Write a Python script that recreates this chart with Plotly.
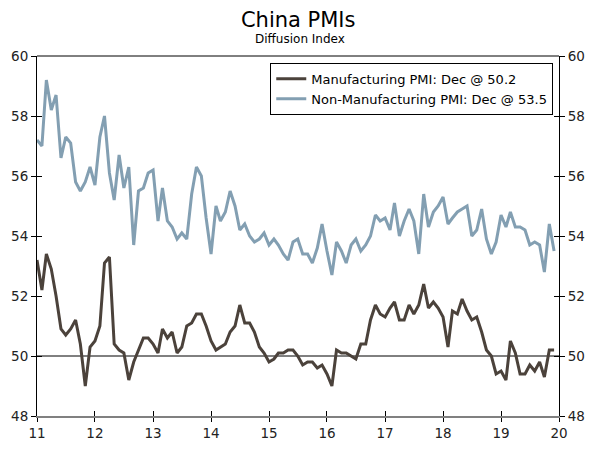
import pandas as pd
import plotly.graph_objects as go

# Monthly values, Jan 2011 - Dec 2019
manufacturing = [
    53.2, 52.2, 53.4, 52.9, 52.0, 50.9, 50.7, 50.9, 51.2, 50.4, 49.0, 50.3,  # 2011
    50.5, 51.0, 53.1, 53.3, 50.4, 50.2, 50.1, 49.2, 49.8, 50.2, 50.6, 50.6,  # 2012
    50.4, 50.1, 50.9, 50.6, 50.8, 50.1, 50.3, 51.0, 51.1, 51.4, 51.4, 51.0,  # 2013
    50.5, 50.2, 50.3, 50.4, 50.8, 51.0, 51.7, 51.1, 51.1, 50.8, 50.3, 50.1,  # 2014
    49.8, 49.9, 50.1, 50.1, 50.2, 50.2, 50.0, 49.7, 49.8, 49.8, 49.6, 49.7,  # 2015
    49.4, 49.0, 50.2, 50.1, 50.1, 50.0, 49.9, 50.4, 50.4, 51.2, 51.7, 51.4,  # 2016
    51.3, 51.6, 51.8, 51.2, 51.2, 51.7, 51.4, 51.7, 52.4, 51.6, 51.8, 51.6,  # 2017
    51.3, 50.3, 51.5, 51.4, 51.9, 51.5, 51.2, 51.3, 50.8, 50.2, 50.0, 49.4,  # 2018
    49.5, 49.2, 50.5, 50.1, 49.4, 49.4, 49.7, 49.5, 49.8, 49.3, 50.2, 50.2,  # 2019
]
non_manufacturing = [
    57.2, 57.0, 59.2, 58.2, 58.7, 56.6, 57.3, 57.1, 55.8, 55.5, 55.8, 56.3,  # 2011
    55.7, 57.3, 58.0, 56.1, 55.2, 56.7, 55.6, 56.3, 53.7, 55.5, 55.6, 56.1,  # 2012
    56.2, 54.5, 55.6, 54.5, 54.3, 53.9, 54.1, 53.9, 55.4, 56.3, 56.0, 54.6,  # 2013
    53.4, 55.0, 54.5, 54.8, 55.5, 55.0, 54.2, 54.4, 54.0, 53.8, 53.9, 54.1,  # 2014
    53.7, 53.9, 53.7, 53.4, 53.2, 53.8, 53.9, 53.4, 53.4, 53.1, 53.6, 54.4,  # 2015
    53.5, 52.7, 53.8, 53.5, 53.1, 53.7, 53.9, 53.5, 53.7, 54.0, 54.7, 54.5,  # 2016
    54.6, 54.2, 55.1, 54.0, 54.5, 54.9, 54.5, 53.4, 55.4, 54.3, 54.8, 55.0,  # 2017
    55.3, 54.4, 54.6, 54.8, 54.9, 55.0, 54.0, 54.2, 54.9, 53.9, 53.4, 53.8,  # 2018
    54.7, 54.3, 54.8, 54.3, 54.3, 54.2, 53.7, 53.8, 53.7, 52.8, 54.4, 53.5,  # 2019
]
dates = pd.date_range("2011-01-01", periods=len(manufacturing), freq="MS")
year_ticks = pd.date_range("2011-01-01", "2020-01-01", freq="YS")
year_labels = [d.strftime("%y") for d in year_ticks]
y_ticks = [48, 50, 52, 54, 56, 58, 60]
reference_level = 50

FONT = "DejaVu Sans"
MFG_COLOR = "#4b423b"
NMI_COLOR = "#839fb2"
x_range = [year_ticks[0], year_ticks[-1]]
y_range = [48, 60]

fig = go.Figure()
fig.add_trace(go.Scatter(x=dates, y=manufacturing, mode="lines",
                         name="Manufacturing PMI: Dec @ 50.2",
                         line=dict(color=MFG_COLOR, width=3)))
fig.add_trace(go.Scatter(x=dates, y=non_manufacturing, mode="lines",
                         name="Non-Manufacturing PMI: Dec @ 53.5",
                         line=dict(color=NMI_COLOR, width=3)))
# invisible helper traces so the overlay axes (inner tick halves, right axis) render
for xa, ya in [("x2", "y"), ("x", "y2"), ("x", "y3"), ("x", "y4")]:
    fig.add_trace(go.Scatter(x=[dates[0]], y=[reference_level], xaxis=xa, yaxis=ya,
                             mode="markers", marker=dict(opacity=0),
                             showlegend=False, hoverinfo="skip"))

fig.add_shape(type="line", xref="paper", x0=0, x1=1, yref="y",
              y0=reference_level, y1=reference_level,
              line=dict(color="black", width=1), layer="below")
fig.add_shape(type="line", xref="paper", x0=0, x1=1, yref="paper", y0=1, y1=1,
              line=dict(color="black", width=1))

tickfont = dict(family=FONT, size=13.5, color="#222222")
common_y = dict(range=y_range, tickvals=y_ticks, showgrid=False, zeroline=False,
                tickcolor="black", tickwidth=1, ticklen=5, automargin=False)
fig.update_layout(
    width=600, height=450,
    margin=dict(l=37, r=41, t=56, b=34),
    paper_bgcolor="white", plot_bgcolor="white",
    font=dict(family=FONT, size=13, color="black"),
    title=dict(text="China PMIs", x=0.497, xanchor="center", y=1 - 20 / 450,
               yanchor="middle", font=dict(family=FONT, size=21, color="black"),
               automargin=False),
    xaxis=dict(range=x_range, tickvals=year_ticks, ticktext=year_labels,
               showgrid=False, zeroline=False, showline=True, linecolor="#808080",
               linewidth=2, ticks="outside", ticklen=4, tickcolor="black", tickwidth=1,
               tickfont=tickfont, automargin=False),
    xaxis2=dict(range=x_range, tickvals=year_ticks, overlaying="x", side="bottom",
                anchor="y", showgrid=False, zeroline=False, showline=False,
                ticks="inside", ticklen=5, tickcolor="black", tickwidth=1,
                showticklabels=False, automargin=False),
    yaxis=dict(**common_y, side="left", showline=True, linecolor="black", linewidth=1,
               ticks="outside", tickfont=tickfont),
    yaxis3=dict(**common_y, side="left", overlaying="y", showline=False,
                ticks="inside", showticklabels=False),
    yaxis2=dict(**common_y, side="right", overlaying="y", showline=True,
                linecolor="black", linewidth=1, ticks="outside", tickfont=tickfont),
    yaxis4=dict(**common_y, side="right", overlaying="y", showline=False,
                ticks="inside", showticklabels=False),
    legend=dict(x=0.989, xanchor="right", y=0.981, yanchor="top",
                bgcolor="white", bordercolor="black", borderwidth=1,
                font=dict(family=FONT, size=13, color="black"),
                tracegroupgap=0, itemwidth=30),
    showlegend=True,
)
fig.add_annotation(text="Diffusion Index", xref="paper", yref="paper",
                   x=0.503, y=1, yshift=8, yanchor="bottom", showarrow=False,
                   font=dict(family=FONT, size=12, color="black"))

fig.write_html("out.html", config={"displayModeBar": False},
               post_script="document.body.style.margin='0';document.body.style.padding='0';")
